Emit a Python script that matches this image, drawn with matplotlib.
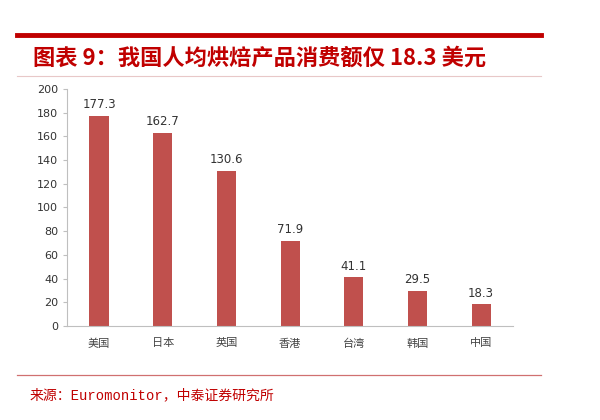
import matplotlib.pyplot as plt
from matplotlib.lines import Line2D

plt.rcParams['font.family'] = ['Noto Sans CJK SC', 'DejaVu Sans']

# данные
regions = ['美国', '日本', '英国', '香港', '台湾', '韩国', '中国']
spend = [177.3, 162.7, 130.6, 71.9, 41.1, 29.5, 18.3]
yticks = [0, 20, 40, 60, 80, 100, 120, 140, 160, 180, 200]

title = '图表 9：我国人均烘焙产品消费额仅 18.3 美元'
source = '来源：Euromonitor，中泰证券研究所'

fig = plt.figure(figsize=(6, 4.2), dpi=100)
ax = fig.add_axes([0.112, 0.224, 0.743, 0.564])

x = range(len(regions))
bars = ax.bar(x, spend, width=0.3, color='#C0504D')
for b, v in zip(bars, spend):
    ax.text(b.get_x() + b.get_width() / 2, v + 4, f'{v}', ha='center', va='bottom',
            fontsize=8.5, color='#333333', family=['DejaVu Sans'])

ax.set_xlim(-0.5, len(regions) - 0.5)
ax.set_ylim(0, 200)
ax.set_yticks(yticks)
ax.set_xticks(list(x))
ax.set_xticklabels(regions, fontsize=8, color='#444444')
ax.tick_params(axis='y', labelsize=8, colors='#333333', length=3, color='#BFBFBF')
ax.tick_params(axis='x', length=0, pad=9)
for lbl in ax.get_yticklabels():
    lbl.set_family(['DejaVu Sans'])
for s in ['top', 'right']:
    ax.spines[s].set_visible(False)
ax.spines['left'].set_color('#BFBFBF')
ax.spines['bottom'].set_color('#BFBFBF')

# рамка заголовка
fig.add_artist(Line2D([0.028, 0.902], [1 - 35 / 420] * 2, color='#C00000', lw=3.5))
fig.add_artist(Line2D([0.028, 0.902], [1 - 76 / 420] * 2, color='#E8C8C8', lw=0.8))
fig.add_artist(Line2D([0.028, 0.902], [1 - 375 / 420] * 2, color='#D07070', lw=0.9))

fig.text(0.055, 1 - 58 / 420, title, fontsize=16, fontweight='bold', style='italic',
         color='#C00000', va='center', ha='left')
fig.text(0.05, 1 - 395 / 420, source, fontsize=10, color='#C00000', va='center', ha='left',
         family=['Liberation Mono', 'Noto Sans CJK SC'])

plt.savefig('out.png', dpi=100)
